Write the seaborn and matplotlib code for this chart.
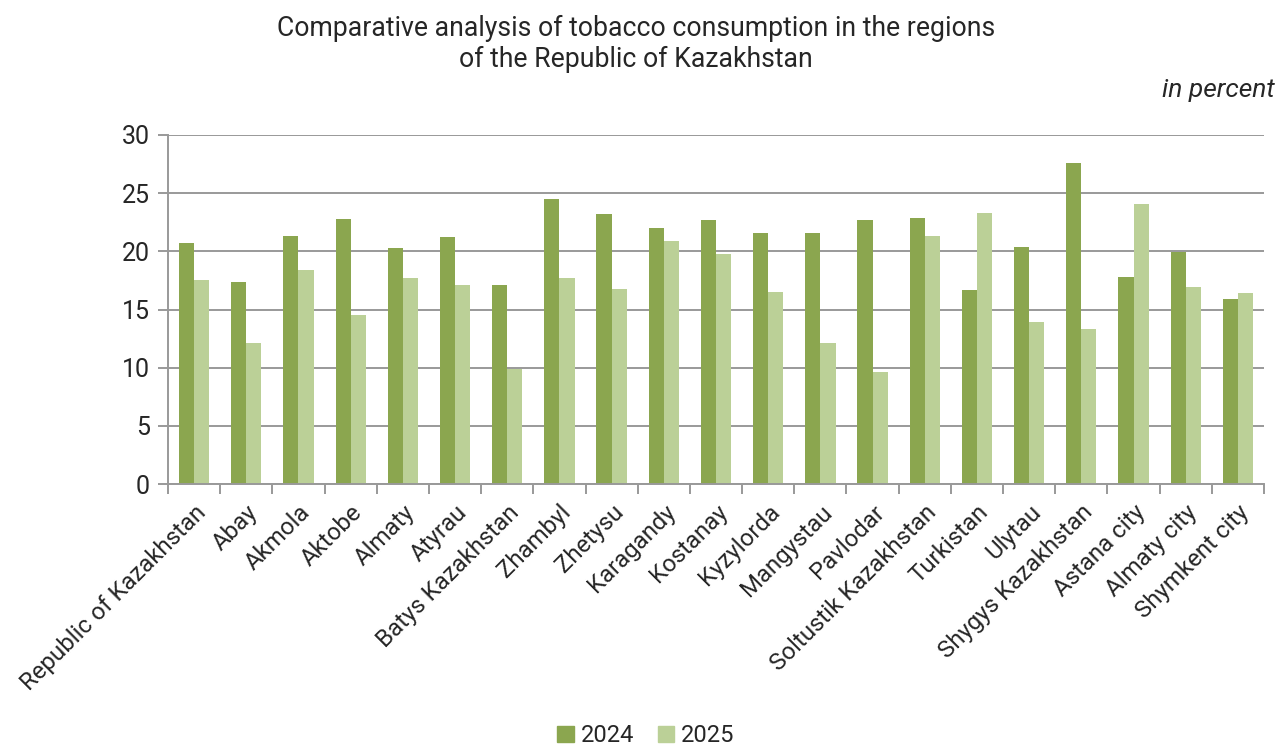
import numpy as np
import pandas as pd
import seaborn as sns
import matplotlib.pyplot as plt
from matplotlib.patches import Patch

regions = ["Republic of Kazakhstan", "Abay", "Akmola", "Aktobe", "Almaty", "Atyrau",
           "Batys Kazakhstan", "Zhambyl", "Zhetysu", "Karagandy", "Kostanay", "Kyzylorda",
           "Mangystau", "Pavlodar", "Soltustik Kazakhstan", "Turkistan", "Ulytau",
           "Shygys Kazakhstan", "Astana city", "Almaty city", "Shymkent city"]
values_2024 = [20.7, 17.4, 21.3, 22.8, 20.3, 21.2, 17.1, 24.5, 23.2, 22.0, 22.7,
               21.6, 21.6, 22.7, 22.9, 16.7, 20.4, 27.6, 17.8, 19.9, 15.9]
values_2025 = [17.5, 12.1, 18.4, 14.5, 17.7, 17.1, 9.9, 17.7, 16.8, 20.9, 19.8,
               16.5, 12.1, 9.6, 21.3, 23.3, 13.9, 13.3, 24.1, 16.9, 16.4]
years = ["2024", "2025"]

df = pd.DataFrame({
    "region": regions * 2,
    "year": [years[0]] * len(regions) + [years[1]] * len(regions),
    "value": values_2024 + values_2025,
})

colors = {"2024": "#8ba64f", "2025": "#bbd097"}

sns.set_style("white")
plt.rcParams["font.family"] = ["Roboto", "DejaVu Sans"]

fig = plt.figure(figsize=(12.79, 7.49), dpi=100)
ax = fig.add_axes([168 / 1279, 1 - 484 / 749, (1264 - 168) / 1279, (484 - 135) / 749])

sns.barplot(data=df, x="region", y="value", hue="year", palette=colors,
            width=0.58, gap=0, saturation=1, linewidth=0, ax=ax, legend=False)

ax.set_ylim(0, 30)
ax.set_xlim(-0.5, len(regions) - 0.5)
ax.set_yticks(range(0, 31, 5))
ax.yaxis.grid(True, color="#999999", linewidth=1.4)
ax.set_axisbelow(True)
for s in ["top", "right"]:
    ax.spines[s].set_visible(False)
for s in ["left", "bottom"]:
    ax.spines[s].set_color("#999999")
    ax.spines[s].set_linewidth(1.4)

ax.set_xlabel("")
ax.set_ylabel("")
ax.tick_params(axis="y", labelsize=18, length=7, color="#999999", width=1.4,
               direction="out", left=True, pad=6)
ax.set_xticks(range(len(regions)))
ax.set_xticklabels(regions, rotation=45, ha="right", rotation_mode="anchor", fontsize=17.3)
ax.tick_params(axis="x", which="major", length=0, pad=12)
ax.set_xticks(np.arange(-0.5, len(regions)), minor=True)
ax.tick_params(axis="x", which="minor", length=7, color="#999999", width=1.4, bottom=True)

fig.text(0.497, 0.941, "Comparative analysis of tobacco consumption in the regions\nof the Republic of Kazakhstan",
         ha="center", va="center", fontsize=19.2, linespacing=1.2)
fig.text(0.997, 0.88, "in percent", ha="right", va="center", fontsize=19, style="italic")

handles = [Patch(color=colors[y], label=y) for y in years]
fig.legend(handles=handles, loc="lower center", bbox_to_anchor=(0.505, -0.026), ncol=2,
           frameon=False, fontsize=17, handlelength=0.7, handleheight=0.7,
           handletextpad=0.3, columnspacing=1.0)

fig.savefig("out.png", dpi=100)
